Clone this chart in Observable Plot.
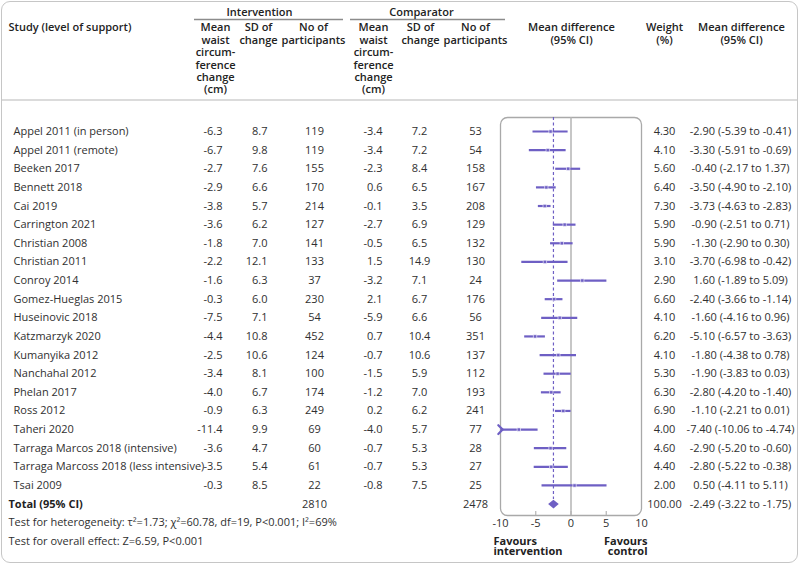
<!DOCTYPE html>
<html>
<head>
<meta charset="utf-8">
<script src="https://cdn.jsdelivr.net/npm/d3@7"></script>
<script src="https://cdn.jsdelivr.net/npm/@observablehq/plot@0.6"></script>
<style>
  body { margin: 0; background: #fff; }
  #wrap { position: relative; width: 800px; height: 565px; overflow: hidden; }
  #border { position: absolute; left: 1px; top: 1px; width: 797px; height: 562px; border: 1.5px solid #c6c6c6;
            border-radius: 9px; box-sizing: border-box; pointer-events: none; }
  svg { display: block; }
</style>
</head>
<body>
<div id="wrap"><div id="border"></div></div>
<script>
// ---------------- data ----------------
const studies = [
  "Appel 2011 (in person)", "Appel 2011 (remote)", "Beeken 2017", "Bennett 2018", "Cai 2019",
  "Carrington 2021", "Christian 2008", "Christian 2011", "Conroy 2014", "Gomez-Hueglas 2015",
  "Huseinovic 2018", "Katzmarzyk 2020", "Kumanyika 2012", "Nanchahal 2012", "Phelan 2017",
  "Ross 2012", "Taheri 2020", "Tarraga Marcos 2018 (intensive)", "Tarraga Marcoss 2018 (less intensive)", "Tsai 2009"
];
const intMean = [-6.3, -6.7, -2.7, -2.9, -3.8, -3.6, -1.8, -2.2, -1.6, -0.3, -7.5, -4.4, -2.5, -3.4, -4.0, -0.9, -11.4, -3.6, -3.5, -0.3];
const intSD   = [8.7, 9.8, 7.6, 6.6, 5.7, 6.2, 7.0, 12.1, 6.3, 6.0, 7.1, 10.8, 10.6, 8.1, 6.7, 6.3, 9.9, 4.7, 5.4, 8.5];
const intN    = [119, 119, 155, 170, 214, 127, 141, 133, 37, 230, 54, 452, 124, 100, 174, 249, 69, 60, 61, 22];
const compMean = [-3.4, -3.4, -2.3, 0.6, -0.1, -2.7, -0.5, 1.5, -3.2, 2.1, -5.9, 0.7, -0.7, -1.5, -1.2, 0.2, -4.0, -0.7, -0.7, -0.8];
const compSD   = [7.2, 7.2, 8.4, 6.5, 3.5, 6.9, 6.5, 14.9, 7.1, 6.7, 6.6, 10.4, 10.6, 5.9, 7.0, 6.2, 5.7, 5.3, 5.3, 7.5];
const compN    = [53, 54, 158, 167, 208, 129, 132, 130, 24, 176, 56, 351, 137, 112, 193, 241, 77, 28, 27, 25];
const weight   = [4.30, 4.10, 5.60, 6.40, 7.30, 5.90, 5.90, 3.10, 2.90, 6.60, 4.10, 6.20, 4.10, 5.30, 6.30, 6.90, 4.00, 4.60, 4.40, 2.00];
const mdEst    = [-2.90, -3.30, -0.40, -3.50, -3.73, -0.90, -1.30, -3.70, 1.60, -2.40, -1.60, -5.10, -1.80, -1.90, -2.80, -1.10, -7.40, -2.90, -2.80, 0.50];
const mdLow    = [-5.39, -5.91, -2.17, -4.90, -4.63, -2.51, -2.90, -6.98, -1.89, -3.66, -4.16, -6.57, -4.38, -3.83, -4.20, -2.21, -10.06, -5.20, -5.22, -4.11];
const mdHigh   = [-0.41, -0.69, 1.37, -2.10, -2.83, 0.71, 0.30, -0.42, 5.09, -1.14, 0.96, -3.63, 0.78, 0.03, -1.40, 0.01, -4.74, -0.60, -0.38, 5.11];

const totalLabel = "Total (95% CI)";
const totalIntN = 2810;
const totalCompN = 2478;
const totalWeight = 100.00;
const pooledEst = -2.49, pooledLow = -3.22, pooledHigh = -1.75;

const xTicks = [-10, -5, 0, 5, 10];
const xDomain = [-10, 10];

const groupHeaders = ["Intervention", "Comparator"];
const colHeaders = [
  "Mean\nwaist\ncircum-\nference\nchange\n(cm)", "SD of\nchange", "No of\nparticipants",
  "Mean\nwaist\ncircum-\nference\nchange\n(cm)", "SD of\nchange", "No of\nparticipants",
  "Mean difference\n(95% CI)", "Weight\n(%)", "Mean difference\n(95% CI)"
];
const studyHeader = "Study (level of support)";
const favours = ["Favours\nintervention", "Favours\ncontrol"];
const footnotes = [
  "Test for heterogeneity: τ²=1.73; χ²=60.78, df=19, P<0.001; I²=69%",
  "Test for overall effect: Z=6.59, P<0.001"
];

// ---------------- layout ----------------
const W = 800, H = 565;
const frameL = 500, frameR = 641, frameT = 117, frameB = 515;
const FONT = "Open Sans";
const TXT = "#303030";
const PURPLE = "#6e5fc4";
const GRID = "#b4b4b4";

const rows = studies.map((s, i) => ({
  row: i, study: s, im: intMean[i], isd: intSD[i], inn: intN[i],
  cm: compMean[i], csd: compSD[i], cn: compN[i],
  w: weight[i], md: mdEst[i], lo: mdLow[i], hi: mdHigh[i]
}));
const total = {row: studies.length, study: totalLabel, inn: totalIntN, cn: totalCompN, w: totalWeight, md: pooledEst, lo: pooledLow, hi: pooledHigh};

const f1 = v => v.toFixed(1);
const f2 = v => v.toFixed(2);
const ciText = d => `${f2(d.md)} (${f2(d.lo)} to ${f2(d.hi)})`;

// column text mark using the y scale, placed at pixel column X
function col(data, text, X, anchor, extra = {}) {
  return Plot.text(data, {
    y: "row", text, frameAnchor: "left", dx: X - frameL,
    textAnchor: anchor, lineAnchor: "middle", fill: TXT, fontSize: 11, ...extra
  });
}
// free label positioned relative to the frame's top-left corner
function label(str, X, Y, anchor, extra = {}) {
  return Plot.text([str], {
    text: d => d, frameAnchor: "top-left", dx: X - frameL, dy: Y - frameT,
    textAnchor: anchor, lineAnchor: "middle", fill: TXT, fontSize: 11, ...extra
  });
}
// multi-line header whose first line sits at y = 27
const LH = 12.4;
function header(str, X, anchor = "middle") {
  const n = str.split("\n").length;
  return label(str, X, 27 + (n - 1) / 2 * LH, anchor, {fontWeight: 600, lineHeight: LH / 11, fill: "#222"});
}

const headerX = [215, 258, 313, 373, 420, 475, 571, 664, 741];

const diamond = {
  draw(ctx) {
    const w = 5.3, h = 4.3;
    ctx.moveTo(-w, 0); ctx.lineTo(0, -h); ctx.lineTo(w, 0); ctx.lineTo(0, h); ctx.closePath();
  }
};

const inRange = rows.filter(d => d.lo >= xDomain[0] && d.hi <= xDomain[1]);
const clippedLow = rows.filter(d => d.lo < xDomain[0]);

const chart = Plot.plot({
  width: W, height: H,
  marginLeft: frameL, marginRight: W - frameR, marginTop: frameT, marginBottom: H - frameB,
  style: {fontFamily: FONT, fontSize: "11px", color: TXT, background: "transparent"},
  x: {domain: xDomain, axis: null},
  y: {type: "linear", domain: [0, studies.length], range: [131, 503.6], axis: null},
  marks: [
    // forest panel
    Plot.frame({stroke: "#a9a9a9", strokeWidth: 1.3, rx: 7}),
    Plot.ruleX([0], {stroke: GRID, strokeWidth: 1.5}),
    Plot.ruleX(xTicks.filter(t => t > xDomain[0] && t < xDomain[1]), {stroke: GRID, strokeWidth: 1.2, insetTop: frameB - frameT - 4}),
    Plot.ruleX([pooledEst], {stroke: PURPLE, strokeWidth: 1.2, strokeDasharray: "3,2.5", insetBottom: frameB - 499}),
    Plot.ruleY(inRange, {y: "row", x1: "lo", x2: "hi", stroke: PURPLE, strokeWidth: 2.2}),
    Plot.link(clippedLow, {x1: () => xDomain[0], x2: "hi", y1: "row", y2: "row", stroke: PURPLE, strokeWidth: 2.2, markerStart: "arrow"}),
    Plot.dot(rows, {x: "md", y: "row", symbol: "square", r: 1.9, fill: PURPLE, stroke: "white", strokeWidth: 0.6}),
    Plot.dot([total], {x: "md", y: "row", symbol: diamond, fill: PURPLE}),
    Plot.axisX({ticks: xTicks, tickSize: 0, tickPadding: 4, tickFormat: d => String(d), label: null, fontSize: 11, fill: TXT}),

    // table columns
    col(rows, "study", 13, "start"),
    col(rows, d => f1(d.im), 222, "end"),
    col(rows, d => f1(d.isd), 267, "end"),
    col(rows, d => String(d.inn), 314, "middle"),
    col(rows, d => f1(d.cm), 382, "end"),
    col(rows, d => f1(d.csd), 419, "middle"),
    col(rows, d => String(d.cn), 475, "middle"),
    col(rows, d => f2(d.w), 664, "middle"),
    col(rows, ciText, 740, "middle"),

    // total row
    col([total], "study", 8, "start", {fontWeight: 700, fill: "#222"}),
    col([total], d => String(d.inn), 314, "middle"),
    col([total], d => String(d.cn), 475, "middle"),
    col([total], d => f2(d.w), 664, "middle"),
    col([total], ciText, 740, "middle"),

    // headers
    label(studyHeader, 8, 27, "start", {fontWeight: 600, fill: "#222"}),
    label(groupHeaders[0], 259, 12, "middle", {fontWeight: 600, fill: "#222"}),
    label(groupHeaders[1], 421, 12, "middle", {fontWeight: 600, fill: "#222"}),
    ...colHeaders.map((h, i) => header(h, headerX[i])),

    // favours
    label(favours[0], 493, 546, "start", {fontWeight: 700, lineHeight: 0.97, fill: "#222"}),
    label(favours[1], 647, 546, "end", {fontWeight: 700, lineHeight: 0.97, fill: "#222"}),

    // footnotes
    label(footnotes[0], 8, 522, "start"),
    label(footnotes[1], 8, 541, "start")
  ]
});

// decorative header rules (group underlines and separator)
const svg = d3.select(chart);
const deco = svg.insert("g", ":first-child").attr("stroke-width", 1.4);
deco.append("line").attr("x1", 194).attr("x2", 343).attr("y1", 19.5).attr("y2", 19.5).attr("stroke", "#8c8c8c");
deco.append("line").attr("x1", 350).attr("x2", 505).attr("y1", 19.5).attr("y2", 19.5).attr("stroke", "#8c8c8c");
deco.append("line").attr("x1", 2).attr("x2", 797).attr("y1", 100).attr("y2", 100).attr("stroke", "#cfcfcf");

document.getElementById("wrap").prepend(chart);
</script>
</body>
</html>
